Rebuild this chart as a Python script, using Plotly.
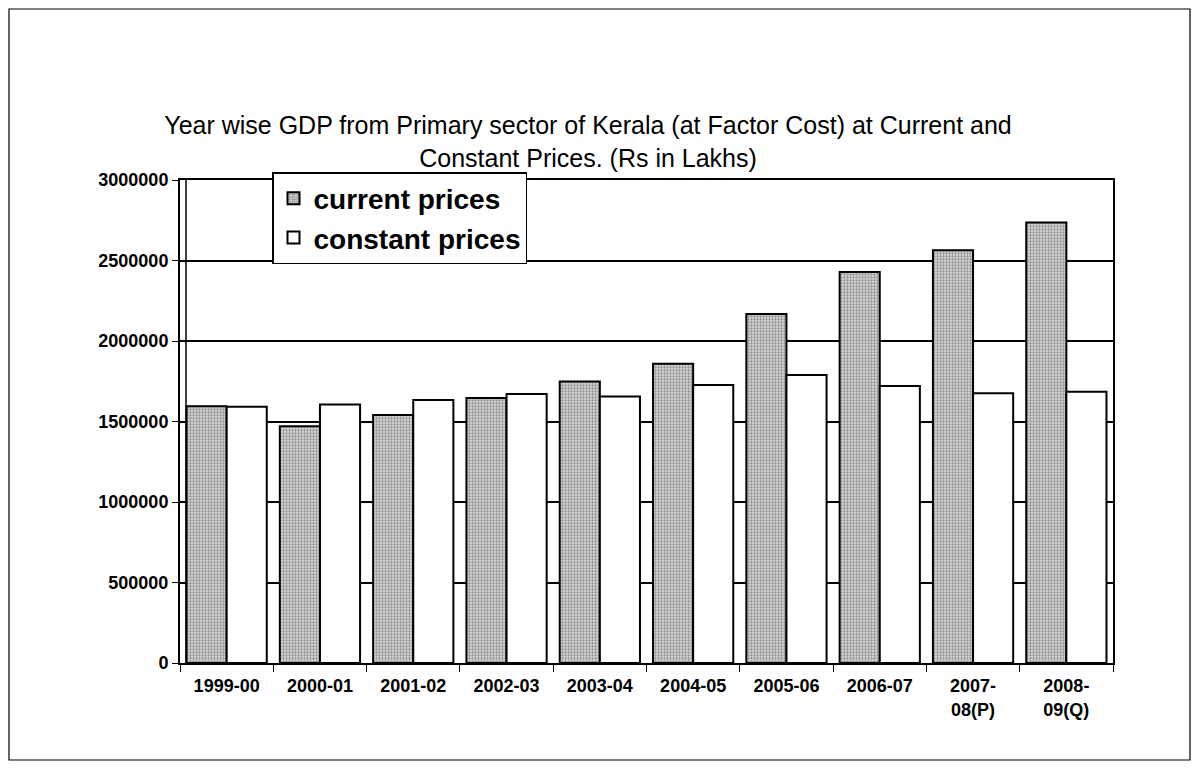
import plotly.graph_objects as go

years = ["1999-00", "2000-01", "2001-02", "2002-03", "2003-04", "2004-05",
         "2005-06", "2006-07", "2007-<br>08(P)", "2008-<br>09(Q)"]
current_prices = [1595000, 1470000, 1540000, 1646000, 1749000, 1858000,
                  2168000, 2429000, 2563000, 2736000]
constant_prices = [1592000, 1606000, 1634000, 1671000, 1656000, 1727000,
                   1789000, 1720000, 1675000, 1685000]
y_ticks = [0, 500000, 1000000, 1500000, 2000000, 2500000, 3000000]

FONT = "Liberation Sans, Arial, sans-serif"

# the page body has an 8px margin, so the figure is drawn at (8, 8)
W, H = 1191, 762
L, R, T, B = 172, 86, 172, 107
pw = W - L - R
ph = H - T - B


def px_x(x):
    return (x - 8 - L) / pw


def px_y(y):
    return (H - B - (y - 8)) / ph


fig = go.Figure()
fig.add_trace(go.Bar(
    x=years, y=current_prices, name="current prices", legendgroup="a",
    marker=dict(color="#c8c8c8",
                line=dict(color="black", width=2),
                pattern=dict(shape=".", fgcolor="#444444", bgcolor="#d8d8d8",
                             size=3, solidity=0.45)),
))
fig.add_trace(go.Bar(
    x=years, y=constant_prices, name="constant prices", legendgroup="b",
    marker=dict(color="white", line=dict(color="black", width=2)),
))

fig.update_layout(
    width=W, height=H,
    paper_bgcolor="white", plot_bgcolor="white",
    margin=dict(l=L, r=R, t=T, b=B),
    barmode="group", bargap=0.14, bargroupgap=0.0,
    font=dict(family=FONT, color="black"),
    title=dict(
        text="Year wise GDP from Primary sector of Kerala (at Factor Cost) at Current and<br>Constant Prices. (Rs in Lakhs)",
        x=0.487, xanchor="center", y=0.834, yanchor="middle",
        font=dict(size=25, color="black", family=FONT),
    ),
    legend=dict(
        x=px_x(272), y=px_y(172), xanchor="left", yanchor="top",
        bgcolor="white", bordercolor="black", borderwidth=1.5,
        font=dict(size=28, family=FONT, color="black", weight="bold"),
        traceorder="normal", tracegroupgap=12,
    ),
    showlegend=True,
    shapes=[
        dict(type="rect", xref="paper", yref="paper",
             x0=px_x(9), x1=px_x(1190), y0=px_y(760), y1=px_y(9),
             line=dict(color="black", width=1.2), layer="below"),
        dict(type="line", xref="paper", yref="paper",
             x0=px_x(186), x1=px_x(186), y0=0, y1=1,
             line=dict(color="black", width=1.5), layer="above"),
    ],
)
fig.update_xaxes(
    type="category",
    showline=True, linecolor="black", linewidth=1.5, mirror=True,
    ticks="outside", tickson="boundaries", ticklen=7, tickcolor="black",
    ticklabelstandoff=6,
    tickfont=dict(size=18, family=FONT, color="black", weight="bold"),
    showgrid=False,
)
fig.update_yaxes(
    range=[0, 3000000], tickvals=y_ticks, ticktext=[str(v) for v in y_ticks],
    showline=True, linecolor="black", linewidth=2, mirror=True,
    ticks="outside", ticklen=6, tickcolor="black",
    tickfont=dict(size=18, family=FONT, color="black", weight="bold"),
    showgrid=True, gridcolor="black", gridwidth=1.5, zeroline=False,
)

fig.write_html("out.html")
